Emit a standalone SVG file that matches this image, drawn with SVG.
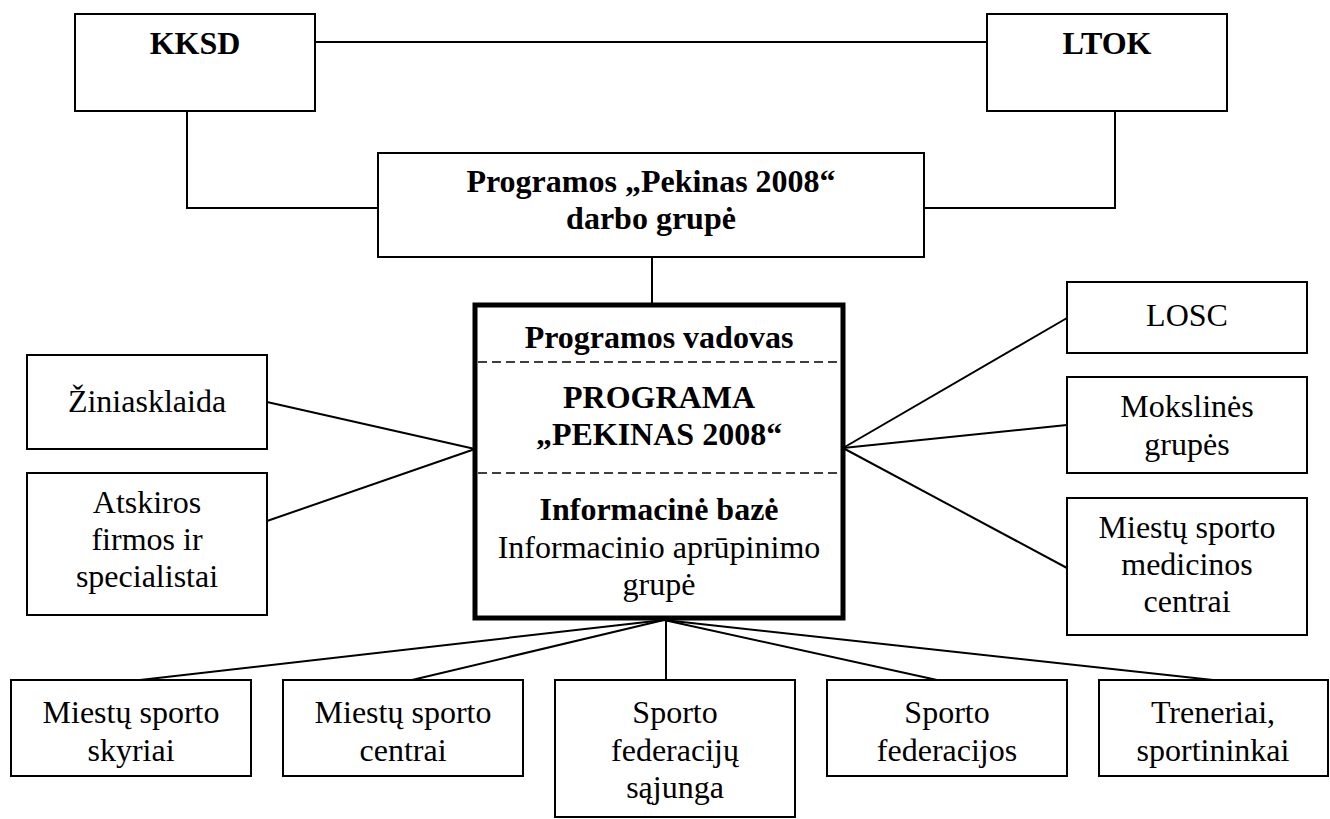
<svg xmlns="http://www.w3.org/2000/svg" width="1330" height="819" viewBox="0 0 1330 819">
<style>
.box{fill:#fff;stroke:#000;stroke-width:2}
.main{fill:#fff;stroke:#000;stroke-width:5}
.dash{stroke:#000;stroke-width:1.5;stroke-dasharray:9 5;fill:none}
.ln{stroke:#000;stroke-width:2;fill:none}
text{font-family:"Liberation Serif","Times New Roman",serif;font-size:32px;text-anchor:middle;fill:#000}
.b{font-weight:bold}
</style>
<rect width="1330" height="819" fill="#fff"/>
<g id="connectors">
<line class="ln" x1="315" y1="42" x2="987" y2="42"/>
<polyline class="ln" points="187,111 187,208 378,208"/>
<polyline class="ln" points="1115,111 1115,208 924,208"/>
<line class="ln" x1="652" y1="257" x2="652" y2="303"/>
<line class="ln" x1="267" y1="402" x2="475" y2="449"/>
<line class="ln" x1="267" y1="521" x2="475" y2="449"/>
<line class="ln" x1="1067" y1="318" x2="843" y2="448"/>
<line class="ln" x1="1067" y1="425" x2="843" y2="448"/>
<line class="ln" x1="1067" y1="568" x2="843" y2="448"/>
<line class="ln" x1="664" y1="620" x2="140" y2="680"/>
<line class="ln" x1="664" y1="620" x2="412" y2="680"/>
<line class="ln" x1="666" y1="620" x2="666" y2="680"/>
<line class="ln" x1="664" y1="620" x2="937" y2="680"/>
<line class="ln" x1="664" y1="620" x2="1213" y2="680"/>
</g>
<g id="kksd"><rect class="box" x="75" y="14" width="240" height="97"/><text class="b" x="195" y="54">KKSD</text></g>
<g id="ltok"><rect class="box" x="987" y="14" width="240" height="97"/><text class="b" x="1107" y="54">LTOK</text></g>
<g id="darbo-grupe"><rect class="box" x="378" y="153" width="546" height="104"/><text class="b" x="651" y="192">Programos „Pekinas 2008“</text><text class="b" x="651" y="229">darbo grupė</text></g>
<g id="programa">
<rect class="main" x="475" y="305" width="368" height="313"/>
<line class="dash" x1="478" y1="362" x2="840" y2="362"/>
<line class="dash" x1="478" y1="473" x2="840" y2="473"/>
<text class="b" x="659" y="348">Programos vadovas</text>
<text class="b" x="659" y="408">PROGRAMA</text>
<text class="b" x="659" y="445">„PEKINAS 2008“</text>
<text class="b" x="659" y="520">Informacinė bazė</text>
<text x="659" y="558">Informacinio aprūpinimo</text>
<text x="659" y="595">grupė</text>
</g>
<g id="ziniasklaida"><rect class="box" x="27" y="355" width="240" height="94"/><text x="147" y="412">Žiniasklaida</text></g>
<g id="atskiros"><rect class="box" x="27" y="473" width="240" height="142"/><text x="147" y="513">Atskiros</text><text x="147" y="550">firmos ir</text><text x="147" y="587">specialistai</text></g>
<g id="losc"><rect class="box" x="1067" y="282" width="240" height="71"/><text x="1187" y="326">LOSC</text></g>
<g id="mokslines"><rect class="box" x="1067" y="377" width="240" height="96"/><text x="1187" y="417">Mokslinės</text><text x="1187" y="455">grupės</text></g>
<g id="medicinos"><rect class="box" x="1067" y="498" width="240" height="137"/><text x="1187" y="538">Miestų sporto</text><text x="1187" y="575">medicinos</text><text x="1187" y="612">centrai</text></g>
<g id="skyriai"><rect class="box" x="11" y="680" width="240" height="96"/><text x="131" y="723">Miestų sporto</text><text x="131" y="761">skyriai</text></g>
<g id="centrai"><rect class="box" x="283" y="680" width="240" height="96"/><text x="403" y="723">Miestų sporto</text><text x="403" y="761">centrai</text></g>
<g id="sajunga"><rect class="box" x="555" y="680" width="240" height="137"/><text x="675" y="723">Sporto</text><text x="675" y="761">federacijų</text><text x="675" y="798">sąjunga</text></g>
<g id="federacijos"><rect class="box" x="827" y="680" width="240" height="96"/><text x="947" y="723">Sporto</text><text x="947" y="761">federacijos</text></g>
<g id="treneriai"><rect class="box" x="1099" y="680" width="229" height="96"/><text x="1213" y="723">Treneriai,</text><text x="1213" y="761">sportininkai</text></g>
</svg>
